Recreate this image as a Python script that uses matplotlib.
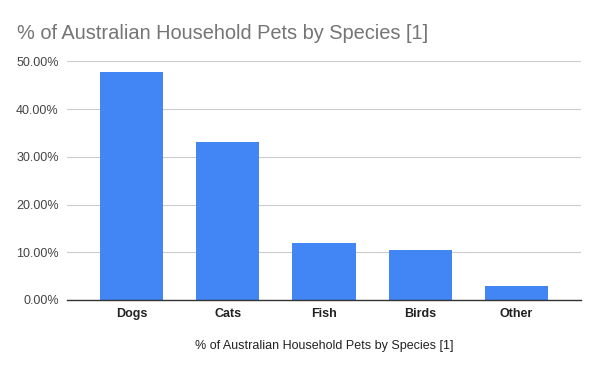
import matplotlib
matplotlib.use("Agg")
import matplotlib.pyplot as plt
from matplotlib.ticker import FuncFormatter

categories = ["Dogs", "Cats", "Fish", "Birds", "Other"]
values = [47.7, 33.0, 11.9, 10.4, 2.9]
yticks = [0, 10, 20, 30, 40, 50]

plt.rcParams['font.family'] = ['Liberation Sans', 'DejaVu Sans']

fig = plt.figure(figsize=(6, 3.71), dpi=100)
ax = fig.add_axes([0.1117, 0.1914, 0.8566, 0.6434])

x = range(len(categories))
ax.bar(x, values, width=0.656, color="#4285F4", zorder=3)

ax.set_xlim(-0.672, len(categories) - 1 + 0.672)
ax.set_ylim(0, 50)
ax.set_yticks(yticks)
ax.yaxis.set_major_formatter(FuncFormatter(lambda v, p: f"{v:.2f}%"))
ax.set_xticks(list(x))
ax.set_xticklabels(categories, fontweight="bold", fontsize=9, color="#222222")
ax.tick_params(axis="y", length=0, labelsize=9, labelcolor="#444444", pad=6)
ax.tick_params(axis="x", length=0, pad=6)
ax.grid(axis="y", color="#cccccc", linewidth=0.8, zorder=0)
for s in ["top", "right", "left"]:
    ax.spines[s].set_visible(False)
ax.spines["bottom"].set_color("#333333")
ax.spines["bottom"].set_linewidth(1.0)
ax.spines["bottom"].set_zorder(4)

ax.set_xlabel("% of Australian Household Pets by Species [1]", fontsize=9, color="#222222", labelpad=14)
fig.text(0.028, 0.911, "% of Australian Household Pets by Species [1]", fontsize=14.4,
         color="#757575", ha="left", va="center")

fig.savefig("out.png", dpi=100)
